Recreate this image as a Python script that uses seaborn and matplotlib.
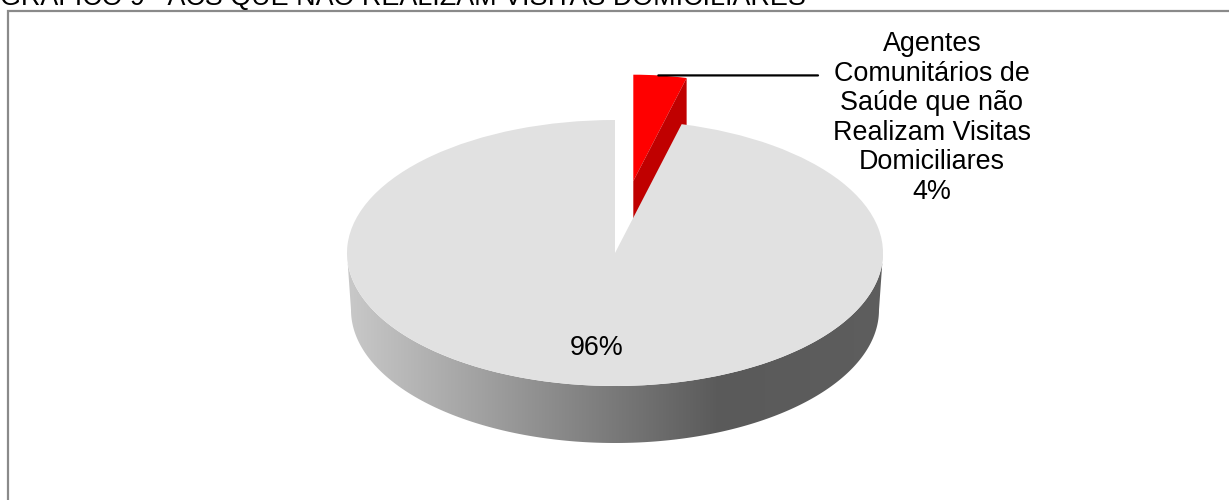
import numpy as np
import matplotlib
matplotlib.use("Agg")
import matplotlib.pyplot as plt
import seaborn as sns
from matplotlib.patches import Polygon, Rectangle

sns.set_theme(style="white")
plt.rcParams['font.family'] = ['Liberation Sans', 'DejaVu Sans']

# ---- data ----
categories = ["Agentes\nComunitários de\nSaúde que não\nRealizam Visitas\nDomiciliares", ""]
values = [4, 96]
pct_labels = ["4%", "96%"]
title = "GRÁFICO 9 - ACS QUE NÃO REALIZAM VISITAS DOMICILIARES"

# ---- style ----
colors = ["#ff0000", "#e1e1e1"]
explode = [0.545, 0.0]
W, H = 1229, 500
CX, CY, RX, RY = 615, 253, 268, 133      # pixel geometry of the top ellipse
DEPTH = 57 / RY
FS = 19.4

def px2d(px, py):
    return ((px - CX) / RX, (CY - py) / RY)

fig = plt.figure(figsize=(W / 100, H / 100), dpi=100)
ax = fig.add_axes([0, 0, 1, 1])

wedges, _ = ax.pie(values, colors=colors, startangle=90, counterclock=False,
                   explode=explode, wedgeprops=dict(linewidth=0))
red, gray = wedges
red.set_radius(0.8)
red.set_zorder(0.5)
gray.set_zorder(2)

# red wedge: visible radial cut face (dark red)
c = np.array(red.center)
th = np.deg2rad(red.theta1)
rim = c + red.r * np.array([np.cos(th), np.sin(th)])
face = np.array([c, rim, rim - [0, DEPTH], c - [0, DEPTH]])
ax.add_patch(Polygon(face, closed=True, facecolor="#c00000", edgecolor="none", zorder=0.6))

# gray side band with horizontal gradient
t = np.linspace(np.pi, 2 * np.pi, 300)
top = np.column_stack([gray.r * np.cos(t), gray.r * np.sin(t)])
tb = t[::-1]
bot = np.column_stack([0.985 * gray.r * np.cos(tb), gray.r * np.sin(tb) - DEPTH])
side = Polygon(np.vstack([top, bot]), closed=True, facecolor="none", edgecolor="none")
ax.add_patch(side)
xs = np.linspace(-1, 1, 400)
pxs = CX + xs * RX
v = np.interp(pxs, [350, 720, 900], [0xc8, 0x5a, 0x5e]) / 255.0
img = np.tile(v[None, :, None], (2, 1, 3))
im = ax.imshow(img, extent=[-1, 1, -1 - DEPTH, 0], aspect="auto",
               interpolation="bilinear", zorder=1.5)
im.set_clip_path(side)

# labels
ax.text(*px2d(597, 348), pct_labels[1], ha="center", va="center", fontsize=FS, color="black", zorder=5)
ax.text(*px2d(932, 118), categories[0] + "\n" + pct_labels[0], ha="center", va="center",
        multialignment="center", fontsize=FS, linespacing=1.18, color="black", zorder=5)

# leader line from red wedge rim
thl = np.deg2rad(83.3)
xy = c + red.r * np.array([np.cos(thl), np.sin(thl)])
ax.annotate("", xy=tuple(xy), xytext=px2d(818, CY - xy[1] * RY),
            arrowprops=dict(arrowstyle="-", color="black", lw=1.6, shrinkA=0, shrinkB=0), zorder=5)

ax.set_aspect("auto")
ax.set_xlim((0 - CX) / RX, (W - CX) / RX)
ax.set_ylim((CY - H) / RY, CY / RY)
ax.axis("off")

# frame and clipped title
fig.add_artist(Rectangle((8 / W, -0.2), 2, 1.2 - 11 / H, transform=fig.transFigure,
                         fill=False, edgecolor="#8a8a8a", lw=1.6))
fig.text(0.0, 1 - 5 / H, title, ha="left", va="baseline", fontsize=FS, color="black")

fig.savefig("out.png", dpi=100)
